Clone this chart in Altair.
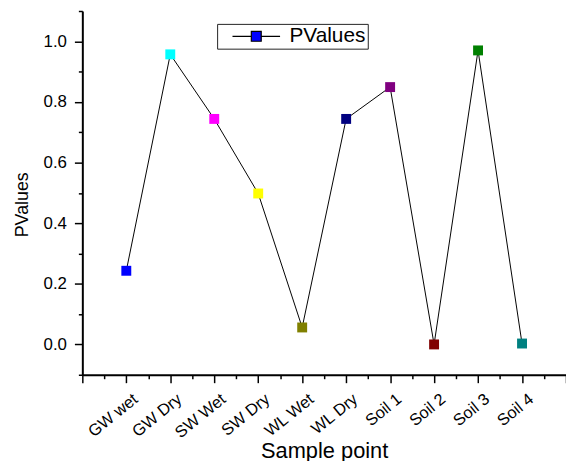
import json
import altair as alt
import pandas as pd

categories = ["GW wet", "GW Dry", "SW Wet", "SW Dry", "WL Wet",
              "WL Dry", "Soil 1", "Soil 2", "Soil 3", "Soil 4"]
pvalues = [0.243, 0.957, 0.744, 0.498, 0.056, 0.744, 0.849, 0.0, 0.970, 0.003]
colors = ["#0000FF", "#00FFFF", "#FF00FF", "#FFFF00", "#808000",
          "#000080", "#800080", "#800000", "#008000", "#008080"]
series_name = "PValues"

x_major = list(range(0, 12))
x_minor = [i + 0.5 for i in range(0, 11)]
y_major = [0.0, 0.2, 0.4, 0.6, 0.8, 1.0]
y_minor = [-0.1, 0.1, 0.3, 0.5, 0.7, 0.9, 1.1]

df = pd.DataFrame({
    "pos": list(range(1, len(categories) + 1)),
    "name": categories,
    "value": pvalues,
    "series": [series_name] * len(categories),
})

FONT = "Arial, Liberation Sans, sans-serif"
xscale = alt.Scale(domain=[0, 11], nice=False, zero=False)
yscale = alt.Scale(domain=[-0.1, 1.1], nice=False, zero=False)

label_expr = json.dumps(categories) + "[datum.value - 1] || ''"

legend_path = ("M-3,0L-0.625,0M3,0L0.625,0"
               "M-0.625,-0.625L0.625,-0.625L0.625,0.625L-0.625,0.625Z")

line = alt.Chart(df).mark_line(strokeWidth=1).encode(
    x=alt.X("pos:Q", scale=xscale, axis=alt.Axis(
        orient="bottom", values=x_major, labelExpr=label_expr,
        labelAngle=-39, labelAlign="right", labelBaseline="top",
        labelFontSize=16.5, labelPadding=8, labelOffset=4, labelOverlap=False,
        labelColor="black", tickSize=8, tickWidth=1.5, tickColor="black",
        domainWidth=2, domainColor="black", grid=False,
        title="Sample point", titleFontSize=22, titleFontWeight="normal",
        titleColor="black", titleY=83, titleBaseline="alphabetic")),
    y=alt.Y("value:Q", scale=yscale, axis=alt.Axis(
        orient="left", values=y_major, format=".1f",
        labelFontSize=17, labelPadding=8, labelColor="black",
        tickSize=8, tickWidth=1.5, tickColor="black",
        domainWidth=2, domainColor="black", grid=False,
        title="PValues", titleFontSize=18, titleFontWeight="normal",
        titleColor="black", titleX=-60, titleY=195,
        titleBaseline="middle", titleAlign="center", titleAngle=270)),
    stroke=alt.Stroke("series:N", scale=alt.Scale(domain=[series_name], range=["black"]),
                      legend=alt.Legend(
                          title=None, orient="none", legendX=136, legendY=13,
                          symbolType=legend_path, symbolSize=256,
                          symbolFillColor="#0000FF", symbolStrokeWidth=1.2,
                          symbolOffset=27, labelOffset=23,
                          labelFontSize=21, labelColor="black",
                          padding=2, strokeColor="#222222")),
)

points = alt.Chart(df).mark_square(size=100, filled=True, opacity=1).encode(
    x=alt.X("pos:Q", scale=xscale, axis=alt.Axis(
        orient="bottom", values=x_minor, labels=False, domain=False,
        tickSize=4, tickWidth=1.5, tickColor="black", grid=False, title=None)),
    y=alt.Y("value:Q", scale=yscale, axis=alt.Axis(
        orient="left", values=y_minor, labels=False, domain=False,
        tickSize=4, tickWidth=1.5, tickColor="black", grid=False, title=None)),
    color=alt.Color("name:N", scale=alt.Scale(domain=categories, range=colors),
                    legend=None),
)

chart = alt.layer(line, points).resolve_axis(
    x="independent", y="independent"
).resolve_scale(
    x="shared", y="shared", color="independent"
).properties(
    width=488, height=367,
    autosize=alt.AutoSizeParams(type="none"),
    padding={"left": 75, "top": 1, "right": 0, "bottom": 86},
).configure(
    font=FONT,
).configure_view(stroke=None)

chart.save("out.html", embed_options={"renderer": "svg", "actions": False})
